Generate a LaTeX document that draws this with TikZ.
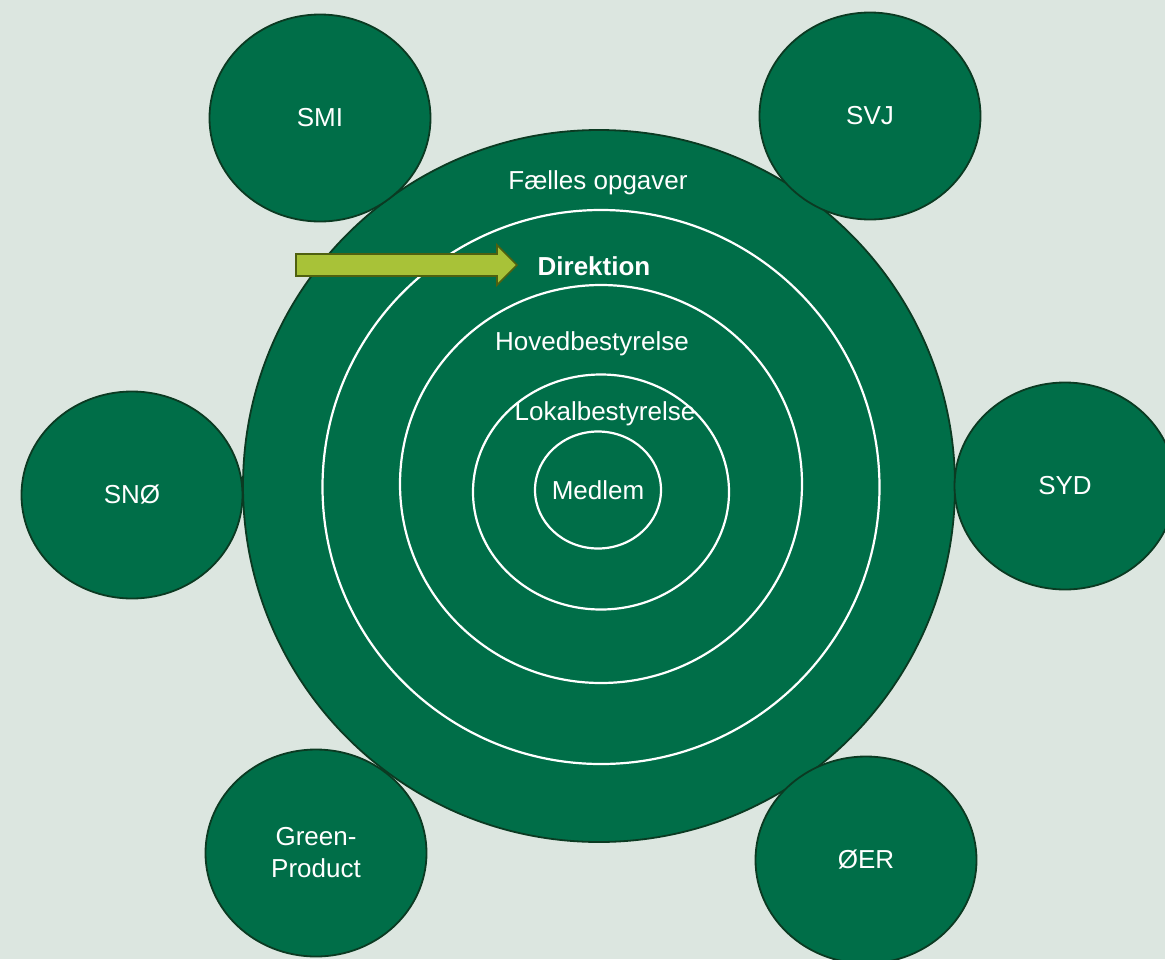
\documentclass[tikz,border=0pt]{standalone}
\usepackage{fontspec}
\setmainfont{Liberation Sans}
\usetikzlibrary{shapes.geometric}
\definecolor{bg}{HTML}{DCE6E0}
\definecolor{dgreen}{HTML}{006E48}
\definecolor{dline}{HTML}{0B3A22}
\definecolor{arrfill}{HTML}{A8C238}
\definecolor{arrline}{HTML}{4F6010}
\tikzset{
  sat/.style={ellipse, draw=dline, line width=1.8pt, fill=dgreen, text=white,
    minimum width=221pt, minimum height=207pt, inner sep=0pt, align=center,
    font=\fontsize{26}{32}\selectfont},
  ring/.style={ellipse, draw=white, line width=2.2pt, inner sep=0pt},
  lbl/.style={text=white, inner sep=0pt, font=\fontsize{26}{32}\selectfont}
}
\begin{document}
\begin{tikzpicture}[x=1pt,y=-1pt]
\fill[bg] (0,0) rectangle (1165,959);
\useasboundingbox (0,0) rectangle (1165,959);
% main circle
\node[ellipse, draw=dline, line width=1.8pt, fill=dgreen, minimum width=712pt, minimum height=712pt, inner sep=0pt] (main) at (599,486) {};
\node[ring, minimum width=557pt, minimum height=554pt] (r1) at (601,487) {};
\node[ring, minimum width=402pt, minimum height=398pt] (r2) at (601,484) {};
\node[ring, minimum width=256pt, minimum height=235pt] (r3) at (601,492) {};
\node[ring, minimum width=126pt, minimum height=117pt] (r4) at (598,490) {};
% labels
\node[lbl] (l0) at (598,183) {Fælles opgaver};
\node[lbl, font=\fontsize{26}{32}\selectfont\bfseries] (l1) at (594,266) {Direktion};
\node[lbl] (l2) at (592,344) {Hovedbestyrelse};
\node[lbl] (l3) at (605,414) {Lokalbestyrelse};
\node[lbl] (l4) at (598,490) {Medlem};
% satellites
\node[sat] (smi) at (320,118) {SMI};
\node[sat] (svj) at (870,116) {SVJ};
\node[sat] (sno) at (132,495) {SNØ};
\node[sat] (syd) at (1065,486) {SYD};
\node[sat] (gp) at (316,853) {Green-\\Product};
\node[sat] (oer) at (866,860) {ØER};
% arrow
\draw[fill=arrfill, draw=arrline, line width=1.6pt, line join=miter]
  (296,254) -- (497,254) -- (497,245) -- (517,265) -- (497,285) -- (497,276) -- (296,276) -- cycle;
\end{tikzpicture}
\end{document}
